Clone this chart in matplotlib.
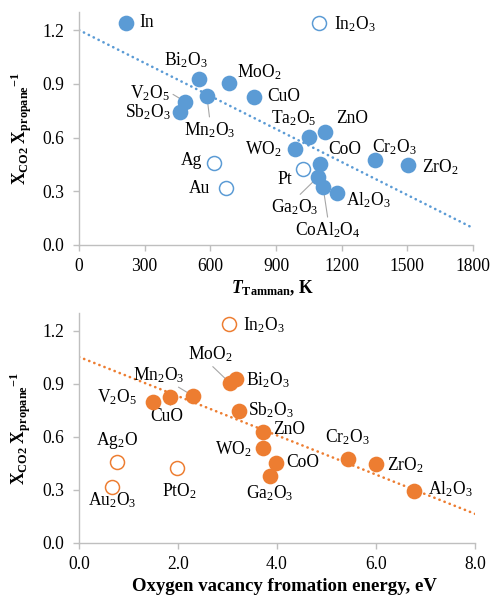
import re
import matplotlib
matplotlib.use('Agg')
import matplotlib.pyplot as plt

# top panel: Tamman temperature (K) vs X_CO2 / X_propane
t_names = ['In', 'Bi2O3', 'MoO2', 'CuO', 'V2O5', 'Sb2O3', 'Mn2O3', 'Ta2O5', 'ZnO',
           'WO2', 'CoO', 'Ga2O3', 'CoAl2O4', 'Al2O3', 'Cr2O3', 'ZrO2']
t_temp = [215, 548, 686, 800, 485, 462, 584, 1051, 1124, 987, 1101, 1092, 1115, 1178, 1352, 1503]
t_ratio = [1.24, 0.927, 0.905, 0.827, 0.80, 0.745, 0.833, 0.604, 0.63, 0.535, 0.453, 0.38,
           0.324, 0.292, 0.477, 0.447]
t_open_names = ['In2O3', 'Ag', 'Au', 'Pt']
t_open_temp = [1097, 617, 671, 1024]
t_open_ratio = [1.24, 0.46, 0.318, 0.425]
t_fit = (1.20, -0.000614)   # intercept, slope of the dotted trend

# bottom panel: oxygen vacancy formation energy (eV)
b_names = ['Bi2O3', 'MoO2', 'Sb2O3', 'V2O5', 'CuO', 'Mn2O3', 'ZnO', 'WO2', 'CoO',
           'Ga2O3', 'Cr2O3', 'ZrO2', 'Al2O3']
b_energy = [3.18, 3.05, 3.23, 1.49, 1.84, 2.30, 3.71, 3.72, 3.98, 3.86, 5.44, 6.00, 6.77]
b_ratio = [0.93, 0.905, 0.745, 0.80, 0.827, 0.833, 0.63, 0.535, 0.453, 0.38, 0.477, 0.447, 0.292]
b_open_names = ['In2O3', 'Ag2O', 'Au2O3', 'PtO2']
b_open_energy = [3.03, 0.76, 0.67, 1.97]
b_open_ratio = [1.24, 0.46, 0.318, 0.425]
b_fit = (1.053, -0.111)

# label placement: offset (pt), alignment, leader-line anchor on text
t_place = {
    'In': (13, 0, 'left', None), 'In2O3': (15, -1, 'left', None),
    'Bi2O3': (-13, 19, 'center', None), 'MoO2': (8, 11, 'left', None),
    'CuO': (13, 0, 'left', None), 'V2O5': (-15, 9, 'right', (1, 0.5)),
    'Sb2O3': (-10, -1, 'right', None), 'Mn2O3': (3, -34, 'center', (0.5, 1)),
    'Ta2O5': (-15, 19, 'center', None), 'ZnO': (11, 14, 'left', None),
    'WO2': (-13, 0, 'right', None), 'CoO': (8, 14, 'left', None),
    'Cr2O3': (19, 12, 'center', None), 'ZrO2': (14, -2, 'left', None),
    'Pt': (-11, -11, 'right', None), 'Ga2O3': (-23, -30, 'center', (0.55, 1)),
    'CoAl2O4': (5, -43, 'center', (0.5, 1)), 'Al2O3': (9, -7, 'left', None),
    'Ag': (-12, 2, 'right', None), 'Au': (-16, 0, 'right', None),
}
b_place = {
    'In2O3': (14, -1, 'left', None), 'MoO2': (-20, 29, 'center', (0.5, 0)),
    'Bi2O3': (10, -1, 'left', None), 'Sb2O3': (9, 1, 'left', None),
    'Mn2O3': (-34, 21, 'center', (0.8, 0)), 'CuO': (-3, -20, 'center', (0.6, 1)),
    'V2O5': (-16, 4, 'right', None), 'ZnO': (10, 2, 'left', None),
    'Cr2O3': (-1, 22, 'center', None), 'WO2': (-11, -1, 'right', None),
    'CoO': (10, 0, 'left', None), 'Ga2O3': (0, -17, 'center', None),
    'ZrO2': (11, -1, 'left', None), 'Al2O3': (14, 2, 'left', None),
    'Ag2O': (0, 21, 'center', None), 'Au2O3': (0, -13, 'center', None),
    'PtO2': (3, -23, 'center', None),
}

plt.rcParams['font.family'] = 'Liberation Serif'
plt.rcParams['mathtext.fontset'] = 'custom'
plt.rcParams['mathtext.rm'] = 'Liberation Serif'
plt.rcParams['mathtext.it'] = 'Liberation Serif:italic'
plt.rcParams['mathtext.bf'] = 'Liberation Serif:bold'
plt.rcParams['mathtext.bfit'] = 'Liberation Serif:bold:italic'

FS = 17.5
GRID = '#bfbfbf'
LEAD = '#a6a6a6'


def chem(name):
    return re.sub(r'(\d)', r'$_{\1}$', name)


def panel(ax, color, xs, ys, names, oxs, oys, onames, fit, xmax, place):
    xline = [0, xmax]
    ax.plot(xline, [fit[0] + fit[1] * x for x in xline], color=color, lw=2.6,
            linestyle=(0, (0.1, 2.0)), dash_capstyle='round', zorder=1)
    ax.scatter(xs, ys, s=246, color=color, linewidths=0, zorder=4)
    ax.scatter(oxs, oys, s=196, facecolors='white', edgecolors=color, linewidths=1.5, zorder=4)
    for n, x, y in list(zip(names, xs, ys)) + list(zip(onames, oxs, oys)):
        dx, dy, ha, rel = place[n]
        kw = {}
        if rel is not None:
            kw['arrowprops'] = dict(arrowstyle='-', color=LEAD, lw=1.1, relpos=rel,
                                    shrinkA=1, shrinkB=0)
        ax.annotate(chem(n), (x, y), xytext=(dx, dy), textcoords='offset points',
                    ha=ha, va='center', fontsize=FS, zorder=2, **kw)
    ax.set_ylim(0, 1.3)
    ax.set_yticks([0, 0.3, 0.6, 0.9, 1.2])
    ax.set_yticklabels(['%.1f' % v for v in [0, 0.3, 0.6, 0.9, 1.2]])
    for s in ['top', 'right']:
        ax.spines[s].set_visible(False)
    for s in ['left', 'bottom']:
        ax.spines[s].set_color(GRID)
        ax.spines[s].set_linewidth(1.4)
    ax.tick_params(axis='both', direction='out', length=6, width=1.4, color=GRID,
                   labelsize=FS, labelcolor='black')
    ax.tick_params(axis='y', pad=9)
    ax.tick_params(axis='x', pad=7)
    ax.text(-0.147, 0.5,
            r'$\mathbf{X}_{\mathbf{CO2}}\ \mathbf{X}_{\mathbf{propane}}{}^{\mathbf{-1}}$',
            transform=ax.transAxes, rotation=90, ha='center', va='center', fontsize=FS)


fig = plt.figure(figsize=(496 / 72, 599 / 72), dpi=72)
ax1 = fig.add_axes([79 / 496, 0.591, 394 / 496, 0.3888])
ax2 = fig.add_axes([79 / 496, 0.0935, 396 / 496, 0.3835])

panel(ax1, '#5b9bd5', t_temp, t_ratio, t_names, t_open_temp, t_open_ratio, t_open_names,
      t_fit, 1800, t_place)
ax1.set_xlim(0, 1800)
ax1.set_xticks(range(0, 1801, 300))
ax1.text(0.492, -0.185, r'$\mathbfit{T}_{\mathbf{Tamman}}$, K', transform=ax1.transAxes,
         ha='center', va='center', fontsize=FS, fontweight='bold')

panel(ax2, '#ed7d31', b_energy, b_ratio, b_names, b_open_energy, b_open_ratio, b_open_names,
      b_fit, 8, b_place)
ax2.set_xlim(0, 8)
ax2.set_xticks([0, 2, 4, 6, 8])
ax2.set_xticklabels(['%.1f' % v for v in [0, 2, 4, 6, 8]])
ax2.text(0.518, -0.1915, 'Oxygen vacancy fromation energy, eV', transform=ax2.transAxes,
         ha='center', va='center', fontsize=18.7, fontweight='bold')

fig.savefig('out.png', dpi=72)
